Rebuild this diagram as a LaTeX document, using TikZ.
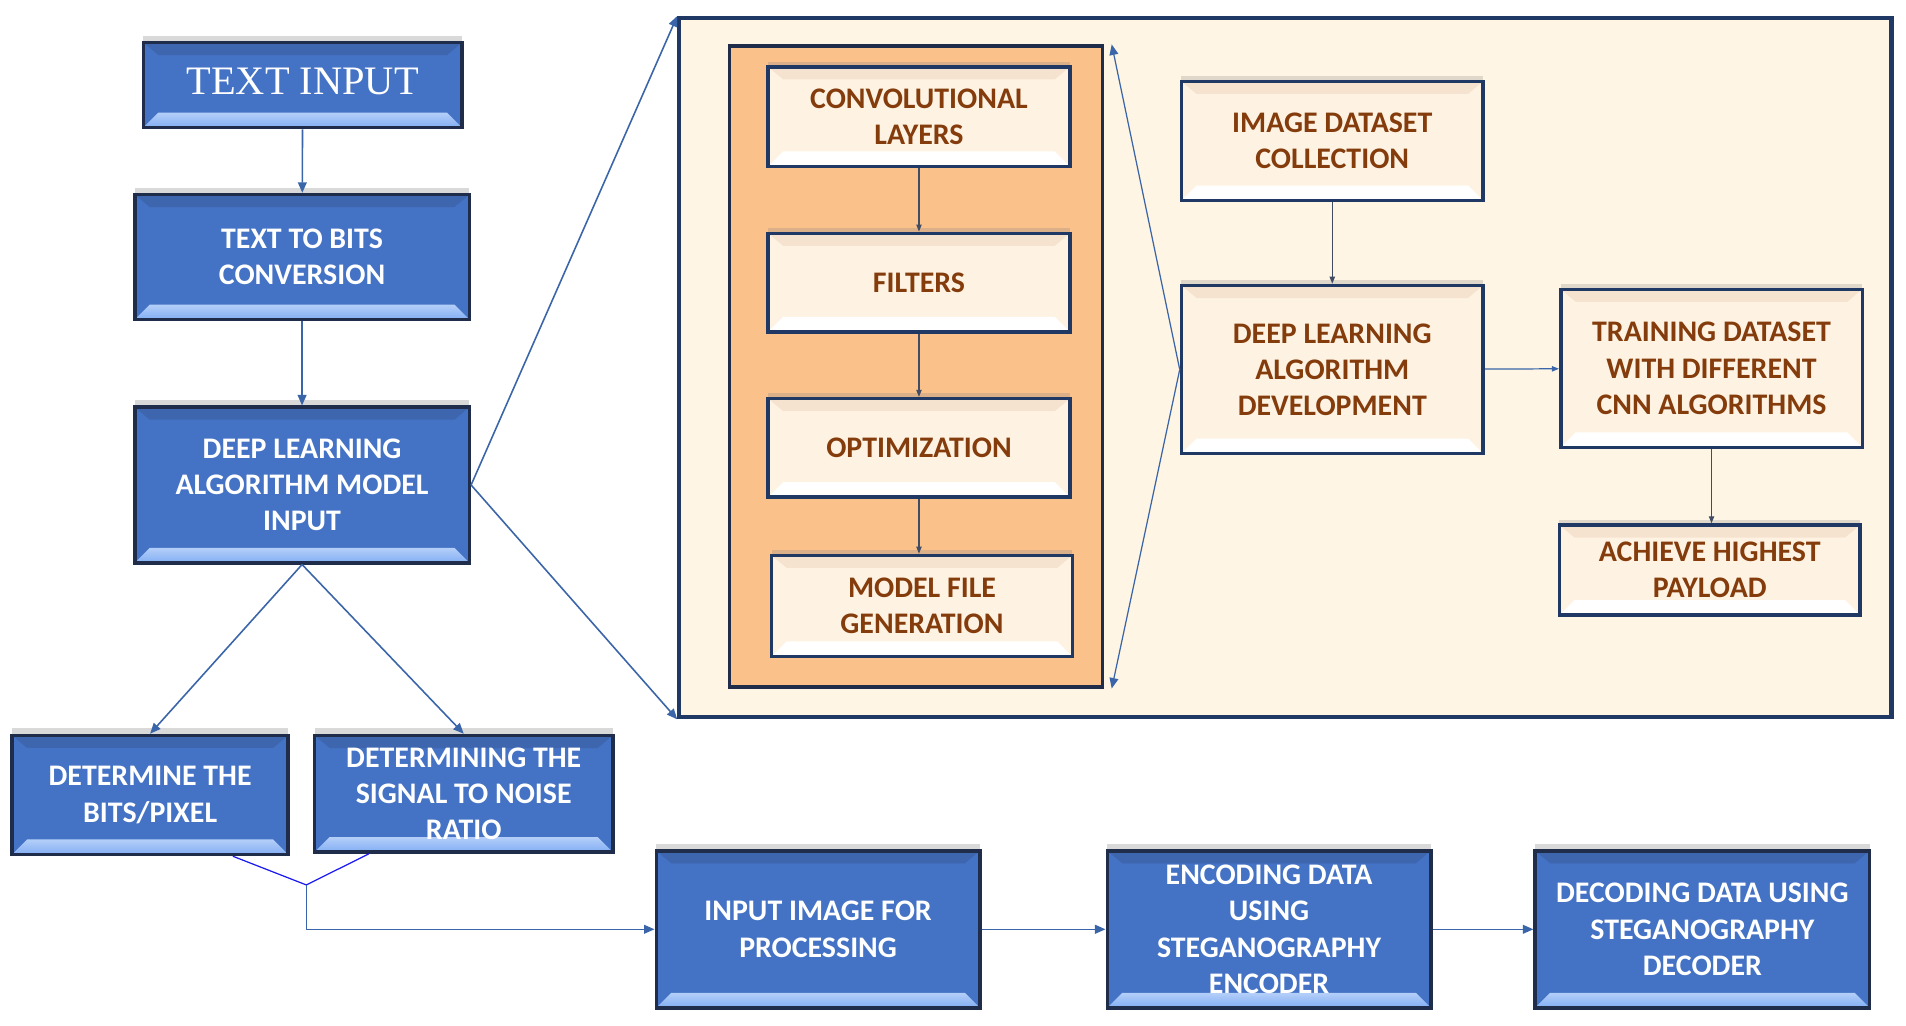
\documentclass[tikz,border=0pt]{standalone}
\usepackage{xcolor}
\usepackage{fontspec}
\setmainfont{Carlito}
\newfontfamily\slabfont{Liberation Serif}
\usepackage{tikz}
\usetikzlibrary{arrows.meta,shadows}

\definecolor{boxblue}{HTML}{4472C4}
\definecolor{bevelblue}{HTML}{82AEF4}
\definecolor{topblue}{HTML}{3D66AF}
\definecolor{edgenavy}{HTML}{1F2D4A}
\definecolor{framenavy}{HTML}{203864}
\definecolor{creamfill}{HTML}{FEF3E2}
\definecolor{creamtop}{HTML}{F6E3CF}
\definecolor{panelfill}{HTML}{FEF5E4}
\definecolor{peachfill}{HTML}{FAC18B}
\definecolor{rusttext}{HTML}{843C0C}
\definecolor{linkblue}{HTML}{3A65A8}
\definecolor{mergeblue}{HTML}{1A1AF0}

\begin{document}
\begin{tikzpicture}[
			x=0.024312cm, y=-0.024312cm,
			bevel/.style 2 args={path picture={
					\fill[#1] (path picture bounding box.north west)
					-- ([shift={(0.3cm,-0.25cm)}]path picture bounding box.north west)
					-- ([shift={(-0.3cm,-0.25cm)}]path picture bounding box.north east)
					-- (path picture bounding box.north east) -- cycle;
					\shade[top color=#2!60, bottom color=#2] (path picture bounding box.south west)
					-- ([shift={(0.3cm,0.3cm)}]path picture bounding box.south west)
					-- ([shift={(-0.3cm,0.3cm)}]path picture bounding box.south east)
					-- (path picture bounding box.south east) -- cycle;}},
			blk/.style={draw=edgenavy, line width=2pt, align=center, inner sep=2pt,
				font=\fontsize{17}{20.5}\selectfont\bfseries},
			bluebox/.style={blk, fill=boxblue, text=white, bevel={topblue}{bevelblue},
				drop shadow={shadow xshift=0pt, shadow yshift=4pt, opacity=.3}},
			creambox/.style={blk, fill=creamfill, text=rusttext, draw=framenavy,
				bevel={creamtop}{white},
				drop shadow={shadow xshift=0pt, shadow yshift=3pt, opacity=.25}},
			panel/.style={draw=framenavy, line width=2.4pt, fill=panelfill},
			cnnpanel/.style={draw=edgenavy, line width=2pt, fill=peachfill},
			bluelink/.style={draw=linkblue, line width=0.9pt, -{Triangle[length=6pt,width=5pt]}},
			darklink/.style={draw=edgenavy!85, line width=0.7pt, -{Triangle[length=4pt,width=3pt]}},
			mergelink/.style={draw=mergeblue, line width=0.7pt},
			]
			\useasboundingbox (0,0) rectangle (1568,844);
			
			%% ── Left column: text to model input ────────────────────────────────────────
			\node[bluebox, minimum width=6.37cm, minimum height=1.70cm,
			font=\slabfont\fontsize{23}{26}\selectfont] (txtin) at (249,70)
			{\raisebox{4pt}{TEXT INPUT}};
			
			\node[bluebox, minimum width=6.69cm, minimum height=2.50cm] (bits) at (248.5,211.5)
			{TEXT TO BITS\\CONVERSION};
			
			\node[bluebox, minimum width=6.69cm, minimum height=3.11cm] (dlmodel) at (248.5,399)
			{DEEP LEARNING\\ALGORITHM MODEL\\INPUT};
			
			\node[bluebox, minimum width=5.52cm, minimum height=2.38cm] (bpp) at (123.5,654)
			{DETERMINE THE\\BITS/PIXEL};
			
			\node[bluebox, minimum width=5.96cm, minimum height=2.33cm] (snr) at (381.5,653)
			{DETERMINING THE\\SIGNAL TO NOISE\\RATIO};
			
			%% ── Bottom row: steganography chain ─────────────────────────────────────────
			\node[bluebox, minimum width=6.47cm, minimum height=3.14cm] (inimg) at (673,764.5)
			{INPUT IMAGE FOR\\PROCESSING};
			
			\node[bluebox, minimum width=6.47cm, minimum height=3.14cm] (enc) at (1044,764.5)
			{ENCODING DATA\\USING\\STEGANOGRAPHY\\ENCODER};
			
			\node[bluebox, minimum width=6.69cm, minimum height=3.14cm] (dec) at (1400.5,764.5)
			{DECODING DATA USING\\STEGANOGRAPHY\\DECODER};
			
			%% ── Detail panel ────────────────────────────────────────────────────────────
			\node[panel, minimum width=24.24cm, minimum height=13.98cm] (bigbox) at (1057.5,302.5) {};
			\node[cnnpanel, minimum width=7.46cm, minimum height=12.81cm] (cnnbox) at (753.5,301.5) {};
			
			\node[creambox, minimum width=6.03cm, minimum height=1.99cm] (conv) at (756,96)
			{CONVOLUTIONAL\\LAYERS};
			\node[creambox, minimum width=6.03cm, minimum height=1.97cm] (filt) at (756,232.5)
			{FILTERS};
			\node[creambox, minimum width=6.03cm, minimum height=1.97cm] (optim) at (756,368.5)
			{OPTIMIZATION};
			\node[creambox, minimum width=6.01cm, minimum height=2.02cm] (mfile) at (758.5,498.5)
			{MODEL FILE\\GENERATION};
			
			\node[creambox, minimum width=6.03cm, minimum height=2.38cm] (imgdata) at (1096,116)
			{IMAGE DATASET\\COLLECTION};
			\node[creambox, minimum width=6.03cm, minimum height=3.36cm] (dldev) at (1096,304)
			{DEEP LEARNING\\ALGORITHM\\DEVELOPMENT};
			\node[creambox, minimum width=6.03cm, minimum height=3.16cm] (train) at (1408,303)
			{TRAINING DATASET\\WITH DIFFERENT\\CNN ALGORITHMS};
			\node[creambox, minimum width=6.01cm, minimum height=1.80cm] (payload) at (1406.5,469)
			{ACHIEVE HIGHEST\\PAYLOAD};
			
			%% ── Links: left column ──────────────────────────────────────────────────────
			\draw[bluelink] (txtin) -- (bits);
			\draw[bluelink] (bits) -- (dlmodel);
			\draw[bluelink] (dlmodel.south) -- (bpp.north);
			\draw[bluelink] (dlmodel.south) -- (snr.north);
			\draw[bluelink] (dlmodel.east) -- (bigbox.north west);
			\draw[bluelink] (dlmodel.east) -- (bigbox.south west);
			
			%% ── Links: merge into the bottom row ────────────────────────────────────────
			\coordinate (merge) at (252,728);
			\draw[mergelink] ([xshift=-1.14cm]bpp.south east) -- (merge)
			-- ([xshift=1.12cm]snr.south west);
			\draw[bluelink] (merge) |- (inimg.west);
			\draw[bluelink] (inimg) -- (enc);
			\draw[bluelink] (enc) -- (dec);
			
			%% ── Links: inside the panel ─────────────────────────────────────────────────
			\draw[darklink] (conv) -- (filt);
			\draw[darklink] (filt) -- (optim);
			\draw[darklink] (optim.south) -- (optim.south |- mfile.north);
			\draw[darklink] (imgdata) -- (dldev);
			\draw[darklink, draw=linkblue] (dldev) -- (train);
			\draw[darklink] (train) -- (train.south |- payload.north);
			\draw[bluelink, line width=0.7pt] (dldev.west) -- ([xshift=0.15cm]cnnbox.north east);
			\draw[bluelink, line width=0.7pt] (dldev.west) -- ([xshift=0.15cm]cnnbox.south east);
			
		\end{tikzpicture}
\end{document}
